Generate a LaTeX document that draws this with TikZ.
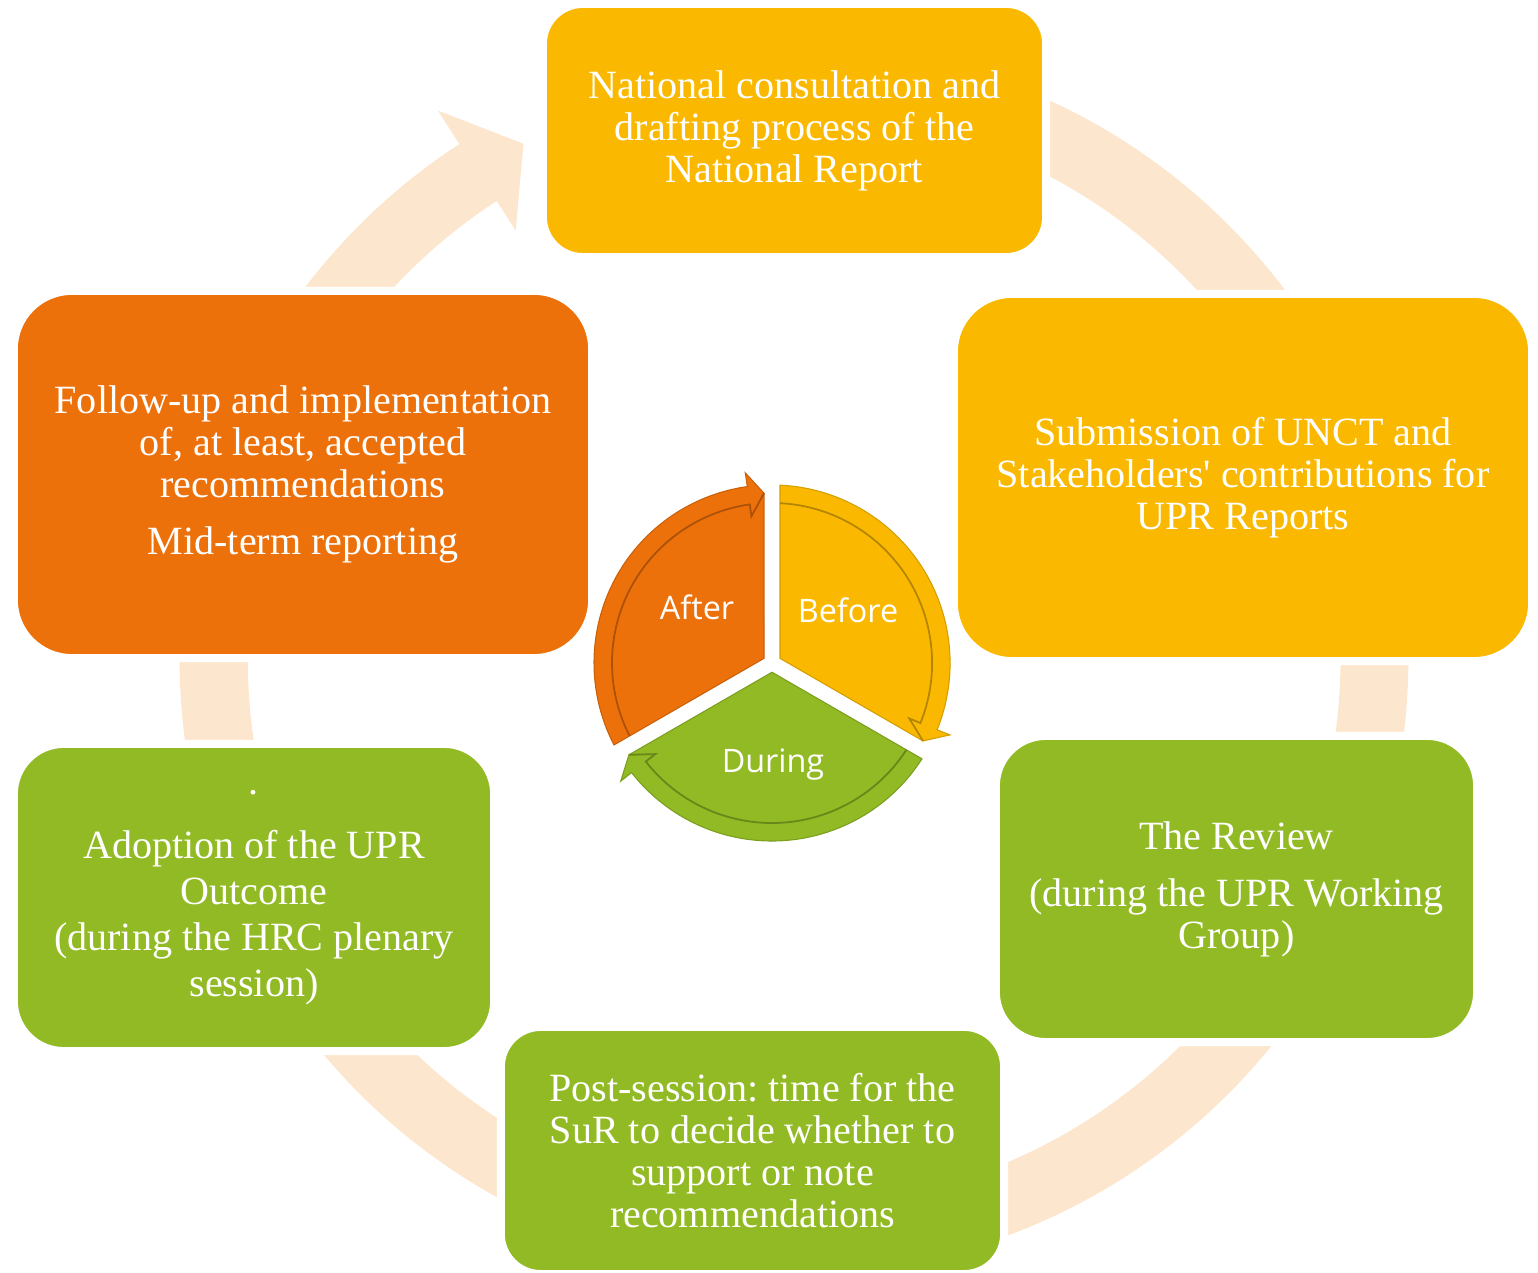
\documentclass[tikz,border=0pt]{standalone}
\usepackage{fontspec}
\setmainfont{Liberation Serif}[Ligatures=TeXOff]
\newfontfamily\cyclefont{Open Sans}
\definecolor{upryellow}{HTML}{FAB900}
\definecolor{uprorange}{HTML}{ED710B}
\definecolor{uprgreen}{HTML}{91BA24}
\definecolor{ringpeach}{HTML}{FDE6CE}
\frenchspacing

\begin{document}
\begin{tikzpicture}[x=0.01cm,y=0.01cm,
        box/.style={draw=white, line width=0.08cm, text=white, align=center, inner sep=0pt,
            font=\fontsize{11.4}{11.95}\selectfont},
        seglabel/.style={text=white, font=\cyclefont\fontsize{9.2}{11}\selectfont}]
    \useasboundingbox (0,0) rectangle (1538,1273);
    % big ring arrow behind the boxes
    \fill[ringpeach, shift={(794,614)}] (90:614) arc[start angle=90, end angle=-237, radius=6.14cm]
        -- (123:654) -- (117.7:582) -- (123:511) -- (123:546)
        arc[start angle=123, end angle=450, radius=5.46cm] -- cycle;
    % the six steps
    \node[box, fill=upryellow, rounded corners=0.4cm, minimum width=5.03cm, minimum height=2.53cm]
        (national) at (794.5,1142.5) {National consultation and\\drafting process of the\\National Report};
    \node[box, fill=upryellow, rounded corners=0.58cm, minimum width=5.78cm, minimum height=3.67cm]
        (submission) at (1243,795.5) {Submission of UNCT and\\Stakeholders' contributions for\\UPR Reports};
    \node[box, fill=uprgreen, rounded corners=0.5cm, minimum width=4.81cm, minimum height=3.06cm]
        (review) at (1236.5,384) {The Review\\[0.15cm](during the UPR Working\\Group)};
    \node[box, fill=uprgreen, rounded corners=0.4cm, minimum width=5.03cm, minimum height=2.47cm]
        (postsession) at (752.5,122.5) {Post-session: time for the\\SuR to decide whether to\\support or note\\recommendations};
    \node[box, fill=uprgreen, rounded corners=0.5cm, minimum width=4.8cm, minimum height=3.07cm,
        font=\fontsize{11.4}{13.1}\selectfont]
        (adoption) at (254,375.5) {.\\[0.18cm]Adoption of the UPR\\Outcome\\(during the HRC plenary\\session)};
    \node[box, fill=uprorange, rounded corners=0.58cm, minimum width=5.78cm, minimum height=3.67cm]
        (followup) at (303,798.5) {Follow-up and implementation\\of, at least, accepted\\recommendations\\[0.15cm]Mid-term reporting};
    % small cycle in the middle
    \foreach \rot/\col in {0/upryellow,120/uprorange,-120/uprgreen}{
        \begin{scope}[shift={(772,610)}, rotate=\rot]
            \fill[\col, draw=\col!85!black, line width=0.3pt] (30:9.24) -- (87.42:178)
                arc[start angle=87.42, end angle=-22, radius=1.78cm]
                -- (-22:192) -- (-27.3:170) -- cycle;
            \draw[\col!72!black, line width=0.5pt] (87.13:160)
                arc[start angle=87.13, end angle=-22, radius=1.6cm]
                -- (-22:148) -- (-27.3:170);
        \end{scope}
    }
    \node[seglabel] (before) at (848,663) {Before};
    \node[seglabel] (after) at (697,666) {After};
    \node[seglabel] (during) at (773,508) {During};
\end{tikzpicture}
\end{document}
